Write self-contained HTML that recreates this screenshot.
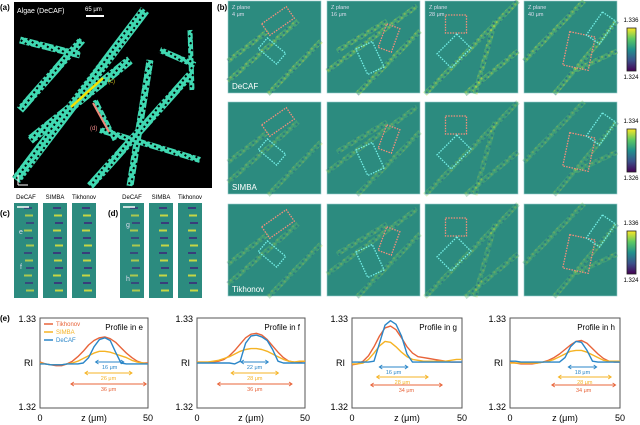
<!DOCTYPE html>
<html><head><meta charset="utf-8"><style>
html,body{margin:0;padding:0;background:#fff;width:640px;height:425px;overflow:hidden}
svg{display:block;font-family:"Liberation Sans",sans-serif}
</style></head><body>
<svg id="fig" width="640" height="425" viewBox="0 0 640 425">
<defs>
<linearGradient id="vir" x1="0" y1="1" x2="0" y2="0">
<stop offset="0" stop-color="#440154"/><stop offset="0.25" stop-color="#3b528b"/><stop offset="0.5" stop-color="#21918c"/><stop offset="0.75" stop-color="#5ec962"/><stop offset="1" stop-color="#fde725"/>
</linearGradient>
<pattern id="tex" width="5" height="5" patternUnits="userSpaceOnUse" patternTransform="rotate(35)">
<rect width="5" height="5" fill="#5dbb6a"/><rect width="2" height="2" fill="#c9dc3c"/><rect x="3" y="3" width="2" height="2" fill="#2c5f86"/>
</pattern>
<pattern id="texa" width="5" height="5" patternUnits="userSpaceOnUse" patternTransform="rotate(35)">
<rect width="5" height="5" fill="#40d9b2"/><rect width="2" height="2" fill="#000"/>
</pattern>
</defs>

<g>
<text x="0" y="10" font-size="8" font-weight="bold">(a)</text>
<rect x="14" y="2" width="198" height="186" fill="#000"/>
<g stroke="url(#texa)" stroke-linecap="butt" fill="none">
<path d="M16 180 L145 10" stroke-width="10"/>
<path d="M20 110 L82 40" stroke-width="8"/>
<path d="M30 140 L130 60" stroke-width="9"/>
<path d="M90 186 L190 75" stroke-width="8"/>
<path d="M130 186 L150 60" stroke-width="7"/>
<path d="M100 130 L200 160" stroke-width="6"/>
<path d="M20 40 L80 55" stroke-width="7"/>
<path d="M160 50 L195 65" stroke-width="6"/>
<path d="M190 30 L192 90" stroke-width="5"/>
<path d="M95 100 L115 140" stroke-width="5"/>
</g>
<text x="17" y="13" font-size="7" fill="#fff">Algae (DeCAF)</text>
<line x1="86" y1="16" x2="104" y2="16" stroke="#fff" stroke-width="2"/>
<text x="85" y="11" font-size="6" fill="#fff">65 μm</text>
<line x1="71" y1="107" x2="103" y2="78" stroke="#f5e200" stroke-width="2.5"/>
<text x="108" y="83" font-size="6" fill="#c9b21a">(c)</text>
<line x1="93" y1="103" x2="109" y2="132" stroke="#f08a7a" stroke-width="2"/>
<text x="90" y="130" font-size="6" fill="#e88">(d)</text>
<path d="M18 185 L18 175 M18 185 L28 185" stroke="#fff" stroke-width="1"/>
</g>

<g id="strips">
<text x="0" y="216" font-size="8" font-weight="bold">(c)</text>
<text x="108" y="216" font-size="8" font-weight="bold">(d)</text>
</g>

<g id="panelb">
<text x="217" y="10" font-size="8" font-weight="bold">(b)</text>
</g>

<g id="panele">
<text x="0" y="321" font-size="8" font-weight="bold">(e)</text>
</g>
</svg>
<script>
const NS="http://www.w3.org/2000/svg";
function mk(tag,attrs,parent,txt){const e=document.createElementNS(NS,tag);for(const k in attrs)e.setAttribute(k,attrs[k]);if(txt!==undefined)e.textContent=txt;parent.appendChild(e);return e;}

const zValues=[0,2.5,5,7.5,10,12.5,15,17.5,20,22.5,25,27.5,30,32.5,35,37.5,40,42.5,45,47.5,50];
const profileNames=["Profile in e","Profile in f","Profile in g","Profile in h"];
const tikhonovE=[1.3251,1.3249,1.3248,1.3247,1.3247,1.3249,1.3252,1.3257,1.3263,1.3270,1.3275,1.3278,1.3279,1.3277,1.3273,1.3267,1.3261,1.3256,1.3252,1.3250,1.3250];
const simbaE=[1.3250,1.3249,1.3248,1.3248,1.3248,1.3249,1.3250,1.3252,1.3255,1.3258,1.3261,1.3263,1.3263,1.3262,1.3260,1.3258,1.3256,1.3253,1.3251,1.3250,1.3249];
const decafE=[1.3249,1.3249,1.3248,1.3248,1.3248,1.3249,1.3249,1.3249,1.3250,1.3256,1.3268,1.3276,1.3278,1.3275,1.3262,1.3250,1.3249,1.3249,1.3249,1.3249,1.3249];
const tikhonovF=[1.3251,1.3251,1.3251,1.3251,1.3252,1.3254,1.3258,1.3264,1.3271,1.3278,1.3282,1.3283,1.3281,1.3276,1.3269,1.3262,1.3256,1.3252,1.3251,1.3251,1.3252];
const simbaF=[1.3251,1.3251,1.3251,1.3252,1.3253,1.3255,1.3257,1.3260,1.3263,1.3265,1.3266,1.3266,1.3265,1.3263,1.3260,1.3257,1.3254,1.3252,1.3251,1.3252,1.3252];
const decafF=[1.3250,1.3250,1.3250,1.3250,1.3250,1.3250,1.3250,1.3249,1.3252,1.3272,1.3280,1.3281,1.3279,1.3275,1.3265,1.3252,1.3250,1.3250,1.3250,1.3250,1.3250];
const tikhonovG=[1.3248,1.3249,1.3252,1.3258,1.3268,1.3280,1.3289,1.3291,1.3287,1.3278,1.3268,1.3261,1.3257,1.3256,1.3255,1.3254,1.3253,1.3252,1.3251,1.3251,1.3251];
const simbaG=[1.3249,1.3249,1.3250,1.3254,1.3261,1.3269,1.3274,1.3273,1.3268,1.3262,1.3257,1.3254,1.3253,1.3252,1.3252,1.3252,1.3252,1.3252,1.3253,1.3254,1.3254];
const decafG=[1.3251,1.3251,1.3251,1.3251,1.3252,1.3272,1.3292,1.3297,1.3293,1.3280,1.3260,1.3251,1.3251,1.3251,1.3251,1.3251,1.3251,1.3251,1.3251,1.3251,1.3251];
const tikhonovH=[1.3251,1.3250,1.3249,1.3249,1.3249,1.3250,1.3251,1.3253,1.3256,1.3260,1.3265,1.3270,1.3274,1.3275,1.3272,1.3266,1.3260,1.3255,1.3252,1.3251,1.3251];
const simbaH=[1.3250,1.3250,1.3250,1.3250,1.3250,1.3250,1.3251,1.3252,1.3254,1.3257,1.3260,1.3263,1.3264,1.3264,1.3262,1.3259,1.3256,1.3253,1.3252,1.3252,1.3252];
const decafH=[1.3252,1.3252,1.3251,1.3251,1.3251,1.3251,1.3251,1.3251,1.3251,1.3251,1.3256,1.3268,1.3274,1.3273,1.3264,1.3252,1.3251,1.3251,1.3251,1.3251,1.3251];
const decafWidth=[[25.7,38.8],[20.3,33],[12.4,25.4],[26.5,39.4]];
const simbaWidth=[[20.8,42.6],[15.8,37.7],[11.2,34.6],[22,46]];
const tikhonovWidth=[[14.3,49.2],[9.5,44],[8.5,41],[19,48]];
const decafLabels=["16 μm","22 μm","16 μm","18 μm"];
const simbaLabels=["26 μm","28 μm","28 μm","28 μm"];
const tikhonovLabels=["36 μm","36 μm","34 μm","34 μm"];
const xTickLabels=["0","50"];
const yTickLabels=["1.33","1.32"];
const colorbarTop=["1.336","1.334","1.336"];
const colorbarBottom=["1.324","1.326","1.324"];

const seriesE=[[tikhonovE,simbaE,decafE],[tikhonovF,simbaF,decafF],[tikhonovG,simbaG,decafG],[tikhonovH,simbaH,decafH]];
const colors={t:"#e8643a",s:"#f5b324",d:"#2a86c8"};

const boxes=[{x:40,w:108},{x:197,w:108},{x:352,w:110},{x:510,w:110}];
const plotTop=318,plotBot=408;
const pe=document.getElementById("panele");
boxes.forEach((b,i)=>{
  const g=mk("g",{},pe);
  
  
  const xs=z=>b.x+z/50*b.w;
  const ys=v=>plotTop+(1.33-v)/0.01*(plotBot-plotTop);
  const fr=mk("rect",{x:b.x,y:plotTop,width:b.w,height:plotBot-plotTop,fill:"none",stroke:"#555","stroke-width":1},g);
  
  const t1=mk("text",{x:b.x-4,y:ys(1.33)+4,"font-size":9,"text-anchor":"end"},g,yTickLabels[0]);
  
  const t2=mk("text",{x:b.x-4,y:ys(1.32)+2,"font-size":9,"text-anchor":"end"},g,yTickLabels[1]);
  
  const ri=mk("text",{x:b.x-7,y:366,"font-size":9,"text-anchor":"end"},g,"RI");
  
  const x0=mk("text",{x:xs(0),y:421,"font-size":9,"text-anchor":"middle"},g,xTickLabels[0]);
  
  const x1=mk("text",{x:xs(50),y:421,"font-size":9,"text-anchor":"middle"},g,xTickLabels[1]);
  
  const xt=mk("text",{x:xs(25),y:421,"font-size":9,"text-anchor":"middle"},g,"z (μm)");
  
  const pt=mk("text",{x:b.x+b.w-5,y:plotTop+12,"font-size":8,"text-anchor":"end"},g,profileNames[i]);
  
  const keys=["t","s","d"],nm=["tikhonov","simba","decaf"];
  seriesE[i].forEach((arr,k)=>{
    const d=arr.map((v,j)=>(j?"L":"M")+xs(zValues[j]).toFixed(1)+" "+ys(v).toFixed(1)).join(" ");
    const p=mk("path",{d:d,fill:"none",stroke:colors[keys[k]],"stroke-width":1.4,"stroke-linejoin":"round"},g);
    
  });
  const arrows=[[decafWidth[i],colors.d,decafLabels[i],"decaf"],[simbaWidth[i],colors.s,simbaLabels[i],"simba"],[tikhonovWidth[i],colors.t,tikhonovLabels[i],"tikhonov"]];
  const ay=i==2||i==3?[367,377,385]:[362,373,384];
  arrows.forEach((a,k)=>{
    const y=ay[k],xa=xs(a[0][0]),xb=xs(a[0][1]);
    const l=mk("path",{d:`M${xa} ${y} L${xb} ${y} M${xa+3} ${y-2} L${xa} ${y} L${xa+3} ${y+2} M${xb-3} ${y-2} L${xb} ${y} L${xb-3} ${y+2}`,stroke:a[1],"stroke-width":0.9,fill:"none"},g);
    
    const tx=mk("text",{x:(xa+xb)/2,y:y+7,"font-size":5.5,fill:a[1],"text-anchor":"middle"},g,a[2]);
    
  });
  if(i==0){
    const lg=[["Tikhonov",colors.t],["SIMBA",colors.s],["DeCAF",colors.d]];
    lg.forEach((e,k)=>{
      const ln=mk("line",{x1:b.x+4,x2:b.x+13,y1:plotTop+6+k*8,y2:plotTop+6+k*8,stroke:e[1],"stroke-width":1.5},g);
      
      const lt=mk("text",{x:b.x+16,y:plotTop+8+k*8,"font-size":6,fill:e[1]},g,e[0]);
      
    });
  }
});

const pb=document.getElementById("panelb");
const colX=[228,327,425,524],rowY=[1,102,204];
const rowNames=["DeCAF","SIMBA","Tikhonov"];
const planeLabels=["4 μm","16 μm","28 μm","40 μm"];
const strands=[
 ["M0 80 L70 20","M0 60 L40 30","M40 93 L93 40"],
 ["M0 70 L90 5","M30 93 L93 30","M10 50 L60 20"],
 ["M0 93 L93 0","M40 93 L93 50","M50 93 L70 20"],
 ["M0 60 L60 0","M30 93 L93 20","M50 70 L93 50"]];
const salmon=[[50,20,30,14,-35],[62,37,14,25,20],[31,23,21,18,0],[55,50,26,34,12]];
const cyan=[[44,50,24,14,40],[43,57,18,28,-25],[29,50,20,28,45],[77,27,16,28,35]];
rowY.forEach((y,r)=>{
  colX.forEach((x,c)=>{
    const g=mk("g",{transform:`translate(${x},${y})`},pb);
    
    
    mk("rect",{x:0,y:0,width:93,height:92,fill:"#2c8b7f",stroke:"#9cc","stroke-width":0.6},g);
    strands[c].forEach(d=>mk("path",{d:d,stroke:"url(#tex)","stroke-width":5,fill:"none",opacity:r==0?0.5:0.35},g));
    const s=salmon[c],cy=cyan[c];
    mk("rect",{x:s[0]-s[2]/2,y:s[1]-s[3]/2,width:s[2],height:s[3],fill:"none",stroke:"#f58f7c","stroke-width":1.3,"stroke-dasharray":"1.5 1.2",transform:`rotate(${s[4]} ${s[0]} ${s[1]})`},g);
    mk("rect",{x:cy[0]-cy[2]/2,y:cy[1]-cy[3]/2,width:cy[2],height:cy[3],fill:"none",stroke:"#74f0e8","stroke-width":1.3,"stroke-dasharray":"1.5 1.2",transform:`rotate(${cy[4]} ${cy[0]} ${cy[1]})`},g);
    if(r==0){mk("text",{x:4,y:8,"font-size":5.5,fill:"#dde"},g,"Z plane");mk("text",{x:4,y:15,"font-size":5.5,fill:"#dde"},g,planeLabels[c]);}
    if(c==0){mk("text",{x:4,y:88,"font-size":8,fill:"#fff"},g,rowNames[r]);}
  });
  const cb=mk("rect",{x:627,y:y+27,width:9,height:43,fill:"url(#vir)",stroke:"#222","stroke-width":0.8},pb);
  
  const ct=mk("text",{x:631,y:y+21,"font-size":6,"text-anchor":"middle"},pb,colorbarTop[r]);
  
  const cbt=mk("text",{x:631,y:y+78,"font-size":6,"text-anchor":"middle"},pb,colorbarBottom[r]);
  
});

const ps=document.getElementById("strips");
const stripX=[14,43,72,120,149,178];
const stripNames=["DeCAF","SIMBA","Tikhonov","DeCAF","SIMBA","Tikhonov"];
stripX.forEach((x,i)=>{
  const g=mk("g",{transform:`translate(${x},203)`},ps);
  
  
  mk("rect",{x:0,y:0,width:24,height:95,fill:"#2c8b7f"},g);
  for(let k=0;k<12;k++){
    mk("rect",{x:12+(k%3)-2,y:4+k*7.5,width:8,height:2,fill:k%2?"#e2e33a":"#3b2f7a",opacity:i%3==0?0.7:0.85},g);
  }
  const t=mk("text",{x:x+12,y:199,"font-size":6,"text-anchor":"middle"},ps,stripNames[i]);
  
});
mk("line",{x1:17,y1:207,x2:29,y2:207,stroke:"#fff","stroke-width":1.5},ps);
mk("line",{x1:123,y1:207,x2:135,y2:207,stroke:"#fff","stroke-width":1.5},ps);
mk("text",{x:19,y:234,"font-size":7,fill:"#dde"},ps,"e");
mk("text",{x:20,y:269,"font-size":7,fill:"#dde"},ps,"f");
mk("text",{x:126,y:227,"font-size":7,fill:"#dde"},ps,"g");
mk("text",{x:126,y:281,"font-size":7,fill:"#dde"},ps,"h");
</script>
</body></html>
